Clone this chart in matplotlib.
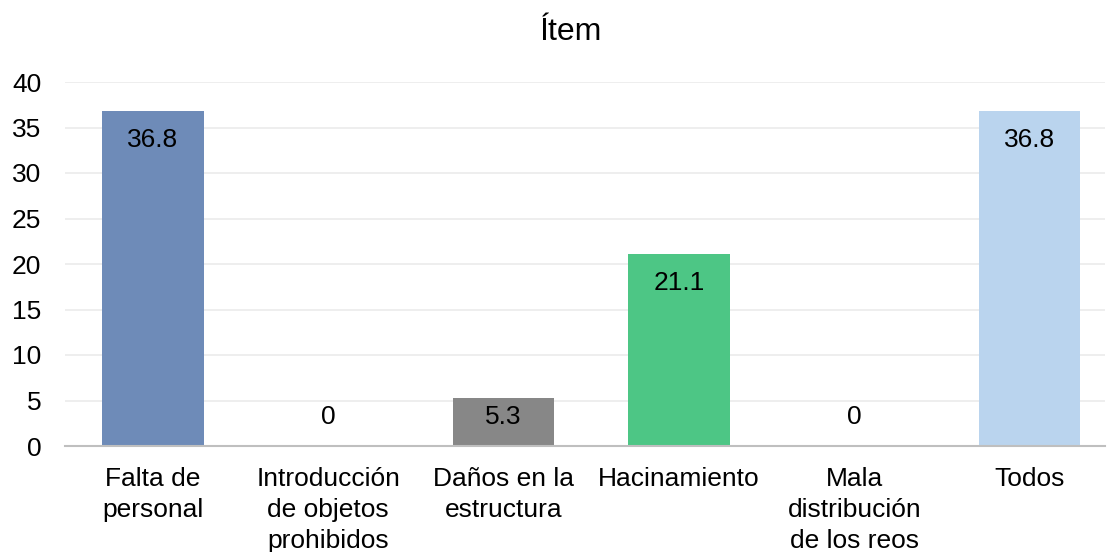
import numpy as np
import matplotlib
matplotlib.use("Agg")
import matplotlib.pyplot as plt

categories = ["Falta de\npersonal", "Introducción\nde objetos\nprohibidos",
              "Daños en la\nestructura", "Hacinamiento",
              "Mala\ndistribución\nde los reos", "Todos"]
values = [36.8, 0, 5.3, 21.1, 0, 36.8]
labels = ["36.8", "0", "5.3", "21.1", "0", "36.8"]
colors = ["#6E8BB8", "#6E8BB8", "#878787", "#4DC685", "#BAD4EE", "#BAD4EE"]

plt.rcParams['font.family'] = ['Liberation Sans', 'DejaVu Sans']

fig = plt.figure(figsize=(11.09, 5.52), dpi=100)
ax = fig.add_axes([65/1109, 1-446/552, 1040/1109, 364/552])

x = np.arange(len(values))
ax.bar(x, values, width=0.58, color=colors, zorder=2)

# data labels just inside the top of each bar
for xi, v, lab in zip(x, values, labels):
    ax.text(xi, max(v - 3.2, 3.2), lab, ha='center', va='center',
            fontsize=19, color='black', zorder=3)

ax.set_xlim(-0.5, 5.43)
ax.set_ylim(0, 40)
ax.set_yticks(range(0, 41, 5))
ax.set_xticks(x)
ax.set_xticklabels(categories, fontsize=19, linespacing=1.36)
ax.tick_params(axis='y', labelsize=19, length=0, pad=17)
ax.tick_params(axis='x', length=0, pad=15)
ax.grid(axis='y', color='#EBEBEB', linewidth=1.2, zorder=0)
for s in ['top', 'right', 'left']:
    ax.spines[s].set_visible(False)
ax.spines['bottom'].set_color('#BFBFBF')
ax.spines['bottom'].set_linewidth(1.5)
ax.spines['bottom'].set_zorder(4)

fig.text(571/1109, 1-32/552, "Ítem", ha='center', va='center', fontsize=23)

fig.savefig("out.png", dpi=100)
